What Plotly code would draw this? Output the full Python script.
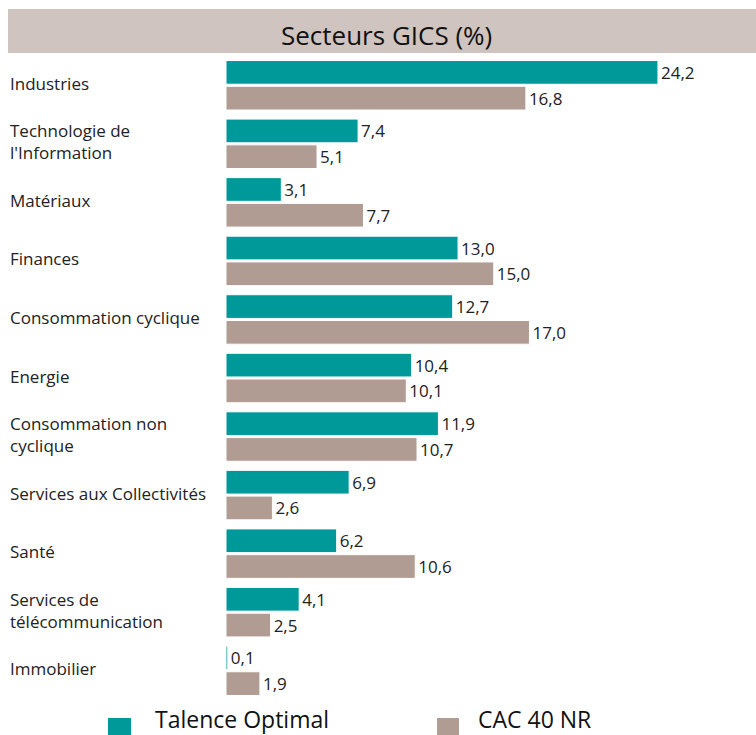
import plotly.graph_objects as go

categories = ["Industries", "Technologie de<br>l'Information", "Matériaux", "Finances",
              "Consommation cyclique", "Energie", "Consommation non<br>cyclique",
              "Services aux Collectivités", "Santé", "Services de<br>télécommunication",
              "Immobilier"]
talence = [24.2, 7.4, 3.1, 13.0, 12.7, 10.4, 11.9, 6.9, 6.2, 4.1, 0.1]
cac40 = [16.8, 5.1, 7.7, 15.0, 17.0, 10.1, 10.7, 2.6, 10.6, 2.5, 1.9]
series_names = ["Talence Optimal", "CAC 40 NR"]
title_text = "Secteurs GICS (%)"

TEAL = "#009999"
TAUPE = "#b09c92"
BAND = "#cfc4bf"
FONT = "Open Sans"

W, H = 756, 735
L, R, T, B = 226, 0, 56, 35
pw, ph = W - L - R, H - T - B

def px_x(x):
    return (x - L) / pw

def px_y(y):
    return (H - B - y) / ph

def fmt(v):
    return f"{v:.1f}".replace(".", ",")

fig = go.Figure()
for name, vals, col in [(series_names[0], talence, TEAL), (series_names[1], cac40, TAUPE)]:
    fig.add_trace(go.Bar(
        y=categories, x=vals, orientation="h", name=name,
        marker=dict(color=col, line=dict(color="white", width=1)),
        text=[fmt(v) for v in vals], textposition="outside", cliponaxis=False,
        textfont=dict(family=FONT, size=17, color="#222222"),
        showlegend=False, hoverinfo="skip",
    ))

fig.update_layout(
    width=W, height=H,
    margin=dict(l=L, r=R, t=T, b=B),
    paper_bgcolor="white", plot_bgcolor="white",
    barmode="group", bargap=0.12, bargroupgap=0.08,
    xaxis=dict(range=[0, pw / 17.85], visible=False, fixedrange=True),
    yaxis=dict(autorange="reversed", showticklabels=False, showgrid=False,
               zeroline=False, showline=False, ticks="", fixedrange=True),
    font=dict(family=FONT, color="#222222"),
)

annotations = []
for c in categories:
    annotations.append(dict(xref="paper", yref="y", x=px_x(8), y=c, xanchor="left",
                            yanchor="middle", text=c, showarrow=False, align="left",
                            yshift=2,
                            font=dict(family=FONT, size=17, color="#222222")))
shapes = [dict(type="rect", xref="paper", yref="paper", x0=px_x(8), x1=px_x(756),
               y0=px_y(53), y1=px_y(9), fillcolor=BAND, line=dict(width=0), layer="below")]
annotations.append(dict(xref="paper", yref="paper", x=px_x(386), y=px_y(35),
                        xanchor="center", yanchor="middle", text=title_text, showarrow=False,
                        font=dict(family=FONT, size=26, color="#111111")))
for (x0, x1, tx, col, name) in [(108, 131, 153, TEAL, series_names[0]),
                                (437, 459, 476, TAUPE, series_names[1])]:
    shapes.append(dict(type="rect", xref="paper", yref="paper", x0=px_x(x0), x1=px_x(x1),
                       y0=px_y(735), y1=px_y(718), fillcolor=col, line=dict(width=0)))
    annotations.append(dict(xref="paper", yref="paper", x=px_x(tx), y=px_y(719),
                            xanchor="left", yanchor="middle", text=name, showarrow=False,
                            font=dict(family=FONT, size=23, color="#111111")))

fig.update_layout(shapes=shapes, annotations=annotations)
fig.write_html("out.html", config={"displayModeBar": False},
               post_script="document.body.style.margin='0';document.body.style.overflow='hidden';")
